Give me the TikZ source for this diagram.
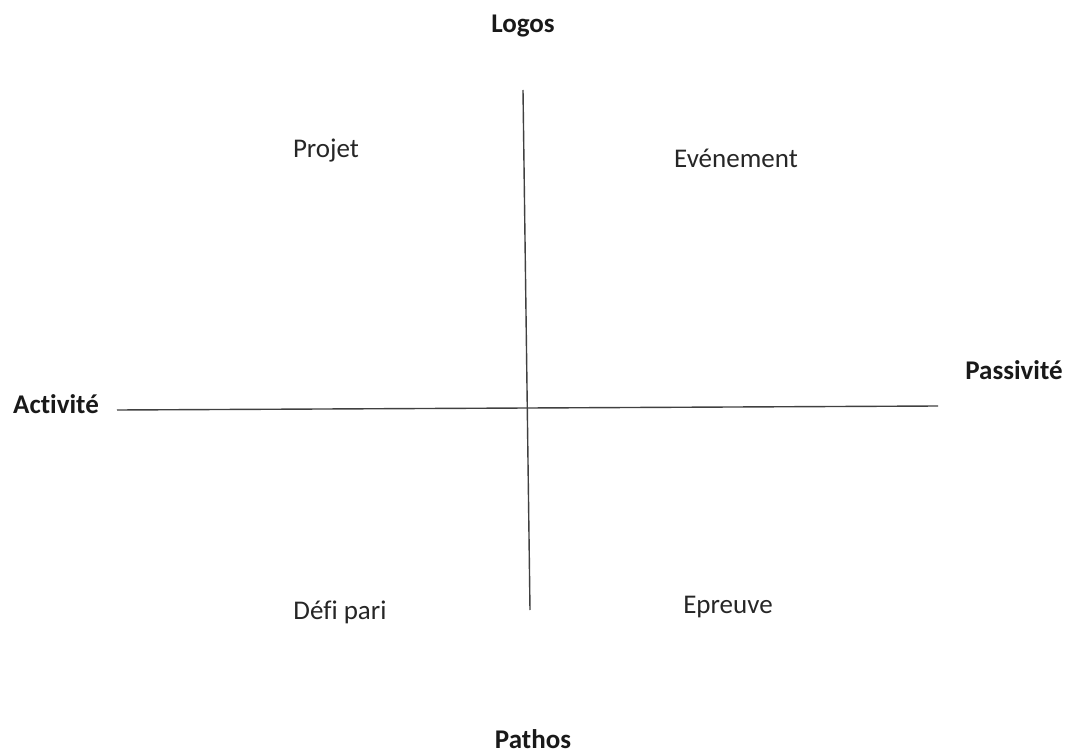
\documentclass[tikz,border=0pt]{standalone}
\usepackage{fontspec}
\setmainfont{Carlito}[Ligatures={NoCommon}]
\begin{document}
\begin{tikzpicture}[x=1pt,y=-1pt,
  axislabel/.style={font=\fontsize{27}{31}\selectfont\bfseries, text=black!90, inner sep=0pt},
  quadlabel/.style={font=\fontsize{27}{31}\selectfont, text=black!85, inner sep=0pt},
  axisline/.style={draw=black!75, line width=1.4pt}]
\useasboundingbox (0,0) rectangle (1072,754);
\coordinate (vtop) at (523,90);
\coordinate (vbot) at (530,610);
\coordinate (hleft) at (117,410);
\coordinate (hright) at (938,406);
\draw[axisline] (vtop) -- (vbot);
\draw[axisline] (hleft) -- (hright);
\node[axislabel] (logos) at (523,26) {Logos};
\node[axislabel] (pathos) at (533,739) {Pathos};
\node[axislabel] (activite) at (56,404) {Activité};
\node[axislabel] (passivite) at (1014,370) {Passivité};
\node[quadlabel] (projet) at (326,151) {Projet};
\node[quadlabel] (evenement) at (736,158) {Evénement};
\node[quadlabel] (defi) at (340,612) {Défi pari};
\node[quadlabel] (epreuve) at (728,607) {Epreuve};
\end{tikzpicture}
\end{document}
